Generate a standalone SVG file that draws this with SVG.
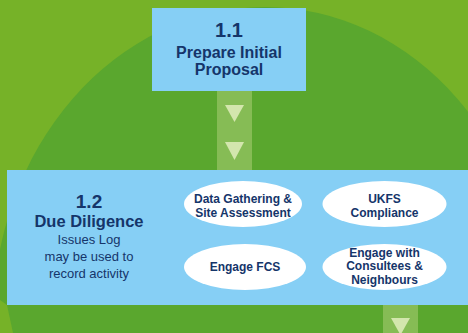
<svg xmlns="http://www.w3.org/2000/svg" width="468" height="333" viewBox="0 0 468 333">
<defs>
<style>
.box{fill:#86cff5}
.oval{fill:#ffffff}
.strip{fill:#86bc55}
.tri{fill:#d3e6ad}
.h{font-family:"Liberation Sans",Arial,sans-serif;font-weight:bold;fill:#15356a;text-anchor:middle}
.r{font-family:"Liberation Sans",Arial,sans-serif;fill:#15356a;text-anchor:middle;font-size:13px}
.o{font-family:"Liberation Sans",Arial,sans-serif;font-weight:bold;fill:#15356a;text-anchor:middle;font-size:12px}
</style>
</defs>
<rect x="0" y="0" width="468" height="333" fill="#76b228"/>
<ellipse cx="265" cy="320" rx="272" ry="313" fill="#5aa72e"/>
<polygon points="0,300 7,305 13,333 0,333" fill="#76b228"/>
<g id="connectors">
<rect class="strip" x="217" y="91" width="35" height="79"/>
<polygon class="tri" points="225,105 244,105 234.5,122"/>
<polygon class="tri" points="225,142 244,142 234.5,160"/>
<rect class="strip" x="383" y="305" width="35" height="28"/>
<polygon class="tri" points="391,318 410,318 400.5,335"/>
</g>
<g id="node-1-1">
<rect class="box" x="152" y="8" width="154" height="83"/>
<text class="h" x="229" y="37" font-size="20">1.1</text>
<text class="h" x="229" y="58" font-size="16">Prepare Initial</text>
<text class="h" x="229" y="75" font-size="16">Proposal</text>
</g>
<g id="node-1-2">
<rect class="box" x="7" y="170" width="461" height="135"/>
<text class="h" x="89" y="208" font-size="19">1.2</text>
<text class="h" x="89" y="227" font-size="16.5">Due Diligence</text>
<text class="r" x="89" y="244">Issues Log</text>
<text class="r" x="89" y="261">may be used to</text>
<text class="r" x="89" y="278">record activity</text>
</g>
<g id="node-data">
<ellipse class="oval" cx="243" cy="204" rx="59" ry="23"/>
<text class="o" x="243" y="203">Data Gathering &amp;</text>
<text class="o" x="243" y="217">Site Assessment</text>
</g>
<g id="node-ukfs">
<ellipse class="oval" cx="384.5" cy="204" rx="62" ry="23"/>
<text class="o" x="384.5" y="203">UKFS</text>
<text class="o" x="384.5" y="217">Compliance</text>
</g>
<g id="node-fcs">
<ellipse class="oval" cx="245" cy="267" rx="61" ry="23"/>
<text class="o" x="245" y="271">Engage FCS</text>
</g>
<g id="node-consultees">
<ellipse class="oval" cx="384.5" cy="267" rx="62" ry="23"/>
<text class="o" x="384.5" y="256.5">Engage with</text>
<text class="o" x="384.5" y="270">Consultees &amp;</text>
<text class="o" x="384.5" y="283.5">Neighbours</text>
</g>
</svg>
